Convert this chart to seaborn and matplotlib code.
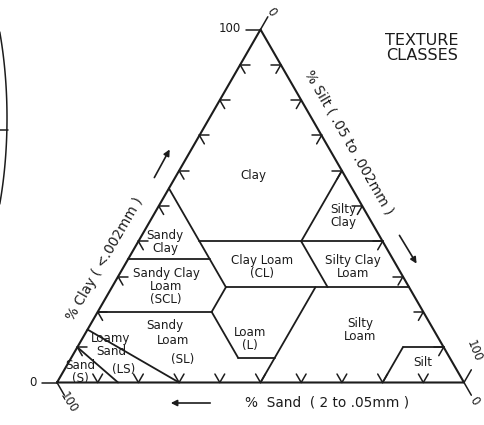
import numpy as np
import pandas as pd
import matplotlib
matplotlib.use("Agg")
import matplotlib.pyplot as plt
import seaborn as sns

# texture class boundaries: straight lines from (clay, silt) a to (clay, silt) b, in %
bnd_clay_a = [40, 35, 27, 20, 7, 55, 27, 20, 27, 40, 60, 10, 10, 15, 10]
bnd_silt_a = [15, 0, 28, 0, 41, 0, 28, 28, 50, 40, 40, 80, 80, 0, 0]
bnd_clay_b = [40, 35, 27, 20, 7, 27, 20, 7, 0, 27, 40, 0, 10, 0, 0]
bnd_silt_b = [60, 20, 73, 28, 50, 28, 28, 41, 50, 53, 40, 80, 90, 30, 15]

# triangle corners (clay, silt)
corner_clay = [0, 0, 100, 0]
corner_silt = [0, 100, 0, 0]

tick_values = [10, 20, 30, 40, 50, 60, 70, 80, 90]

class_names = ["Clay", "Silty\nClay", "Sandy\nClay", "Clay Loam\n(CL)",
               "Silty Clay\nLoam", "Sandy Clay\nLoam\n(SCL)", "Loam\n(L)",
               "Sandy", "Loam", "(SL)", "Silty\nLoam", "Silt",
               "Loamy\nSand", "(LS)", "Sand\n(S)"]

clay_title = "% Clay ( <.002mm )"
silt_title = "% Silt ( .05 to .002mm )"
sand_title = "%  Sand  ( 2 to .05mm )"

S3 = np.sqrt(3) / 2


def to_xy(clay, silt):
    clay = np.asarray(clay, float)
    silt = np.asarray(silt, float)
    return silt + clay / 2, clay * S3


def at(xp, yp):
    # picture pixel -> data coords
    return (xp - 57) / 4.07, (382.5 - yp) / 4.076


sns.set_style("white")
plt.rcParams['font.family'] = ['DejaVu Sans']
ink = "#1c1c1c"

fig = plt.figure(figsize=(4.84, 4.25), dpi=100)
ax = fig.add_axes([0, 0, 1, 1])

# outline
ox, oy = to_xy(corner_clay, corner_silt)
sns.lineplot(x=ox, y=oy, sort=False, estimator=None, color=ink, lw=1.5, ax=ax)

# class boundaries
xa, ya = to_xy(bnd_clay_a, bnd_silt_a)
xb, yb = to_xy(bnd_clay_b, bnd_silt_b)
rows = []
for i in range(len(xa)):
    rows.append((i, xa[i], ya[i]))
    rows.append((i, xb[i], yb[i]))
bnd = pd.DataFrame(rows, columns=["seg", "x", "y"])
sns.lineplot(data=bnd, x="x", y="y", units="seg", estimator=None, sort=False,
             color=ink, lw=1.3, ax=ax, legend=False)

# chevron ticks along the edges
L = 2.4
d_right = (1, 0)
d_left = (-1, 0)
d_dr = (0.5, -S3)
d_dl = (-0.5, -S3)
d_ur = (0.5, S3)
d_ul = (-0.5, S3)
trows = []
k = 0
for v in tick_values:
    pts = [(to_xy(v, 0), (d_right, d_dr)),
           (to_xy(v, 100 - v), (d_left, d_dl)),
           (to_xy(0, v), (d_ul, d_ur))]
    for (px, py), dirs in pts:
        for dx, dy in dirs:
            trows.append((k, float(px), float(py)))
            trows.append((k, float(px) + L * dx, float(py) + L * dy))
            k += 1
# corner strokes
for (c, s), dirs in [((100, 0), (d_left, d_ur)), ((0, 0), (d_left, d_dr)),
                     ((0, 100), (d_ur, d_dr))]:
    px, py = to_xy(c, s)
    for dx, dy in dirs:
        trows.append((k, float(px), float(py)))
        trows.append((k, float(px) + 3.6 * dx, float(py) + 3.6 * dy))
        k += 1
tk = pd.DataFrame(trows, columns=["seg", "x", "y"])
sns.lineplot(data=tk, x="x", y="y", units="seg", estimator=None, sort=False,
             color=ink, lw=1.1, ax=ax, legend=False)

# class labels
label_px = [(253, 176), (343, 216), (165, 242), (262, 267), (353, 267),
            (166, 287), (250, 339), (165, 325), (173, 341), (183, 360),
            (360, 330), (423, 363), (111, 345), (124, 369), (80, 372)]
for name, (xp, yp) in zip(class_names, label_px):
    ax.text(*at(xp, yp), name, ha="center", va="center", fontsize=8.6,
            color=ink, linespacing=1.0)

# corner numbers
fs = 8.5
ax.text(*at(230, 29), "100", ha="center", va="center", fontsize=fs, color=ink)
ax.text(*at(271, 12), "0", ha="center", va="center", fontsize=fs, color=ink, rotation=-55)
ax.text(*at(33, 382), "0", ha="center", va="center", fontsize=fs, color=ink)
ax.text(*at(69, 403), "100", ha="center", va="center", fontsize=fs, color=ink, rotation=-58)
ax.text(*at(474, 351), "100", ha="center", va="center", fontsize=fs, color=ink, rotation=-68)
ax.text(*at(474, 401), "0", ha="center", va="center", fontsize=fs, color=ink, rotation=-55)

# axis titles and arrows
ax.text(*at(105, 259), clay_title, ha="center", va="center", fontsize=9.8,
        rotation=60, color=ink)
ax.text(*at(349, 142), silt_title, ha="center", va="center", fontsize=9.8,
        rotation=-60, color=ink)
ax.text(*at(327, 403), sand_title, ha="center", va="center", fontsize=9.8,
        color=ink)
arrow = dict(arrowstyle="-|>", color=ink, lw=1.2, mutation_scale=9)
ax.annotate("", xy=at(171, 147), xytext=at(153, 180), arrowprops=arrow)
ax.annotate("", xy=at(418, 266), xytext=at(398, 233), arrowprops=arrow)
ax.annotate("", xy=at(168, 403), xytext=at(213, 403), arrowprops=arrow)

ax.text(*at(422, 48), "TEXTURE\nCLASSES", ha="center", va="center",
        fontsize=11.5, color=ink, linespacing=1.05)

# edge of the neighbouring figure, cut off at the left
t = np.linspace(-0.47, 0.47, 60)
ax.plot(*at(-60 + 67 * np.cos(t), 118 + 190 * np.sin(t)), color=ink, lw=1.1)
ax.plot(*at(np.array([0, 8]), np.array([130, 130])), color=ink, lw=1.1)

ax.set_xlim((0 - 57) / 4.07, (484 - 57) / 4.07)
ax.set_ylim((382.5 - 425) / 4.076, 382.5 / 4.076)
ax.set_axis_off()

fig.savefig("out.png", dpi=100)
